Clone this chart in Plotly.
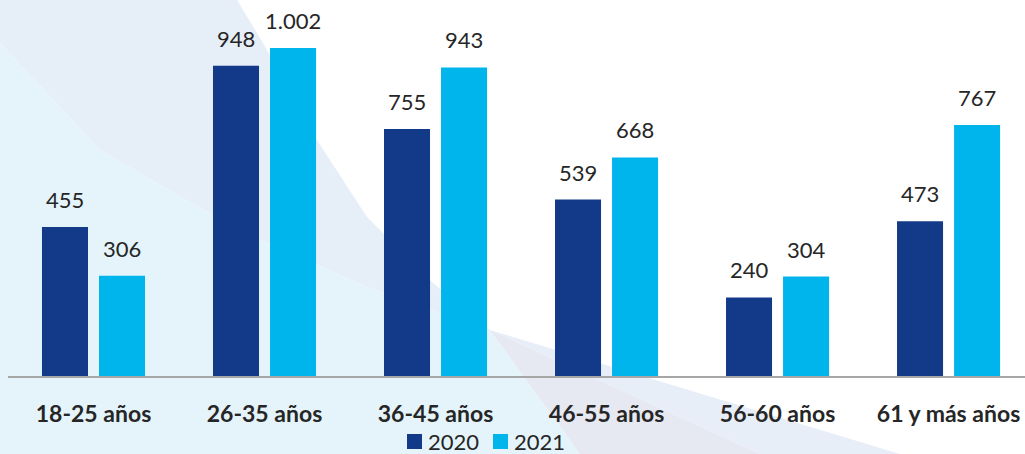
import plotly.graph_objects as go

categories = ["18-25 años", "26-35 años", "36-45 años", "46-55 años", "56-60 años", "61 y más años"]
values_2020 = [455, 948, 755, 539, 240, 473]
values_2021 = [306, 1002, 943, 668, 304, 767]
series_names = ["2020", "2021"]
colors = ["#123A89", "#00B4EC"]

W, H = 1025, 454
L, R, T, B = 8, 0, 0, 78
PW, PH = W - L - R, H - T - B

def px2paper(x, y):
    return (x - L) / PW, (H - B - y) / PH

def poly(points):
    parts = []
    for i, (x, y) in enumerate(points):
        px, py = px2paper(x, y)
        parts.append(("M" if i == 0 else "L") + f"{px:.4f},{py:.4f}")
    return " ".join(parts) + " Z"

bg_shapes = [
    (poly([(0, 0), (237, 0), (267, 50), (317, 140), (367, 217), (433, 283), (490, 330),
           (367, 287), (233, 227), (100, 150), (0, 43)]), "#E6EEF8"),
    (poly([(0, 43), (100, 150), (233, 227), (367, 287), (490, 330), (580, 454), (0, 454)]), "#E5F4FA"),
    (poly([(490, 330), (580, 454), (760, 454)]), "#E6E8F2"),
    (poly([(490, 330), (760, 454), (900, 454)]), "#E8EEF8"),
]

BARGAP = 0.333
GROUPGAP = 0.193
CAT_PX = PW / 5.947
SLOT_PX = CAT_PX * (1 - BARGAP) / 2

fig = go.Figure()
annotations = []
for i, (name, vals, col) in enumerate(zip(series_names, [values_2020, values_2021], colors)):
    fig.add_trace(go.Bar(
        x=categories, y=vals, name=name, marker_color=col,
        marker_line_width=0, showlegend=False, hoverinfo="skip",
    ))
    shift = (i - 0.5) * SLOT_PX
    for c, v in zip(categories, vals):
        annotations.append(dict(
            x=c, y=v, xref="x", yref="y", text=f"{v:,}".replace(",", "."),
            showarrow=False, xanchor="center", yanchor="bottom",
            xshift=shift, yshift=12,
            font=dict(family="Lato", size=22, color="#262626"),
        ))

# legend drawn as squares + labels below the axis
shapes = [dict(type="path", path=p, xref="paper", yref="paper", fillcolor=c,
               line=dict(width=0), layer="below") for p, c in bg_shapes]
LEG_Y = 441.5
for k, (name, col) in enumerate(zip(series_names, colors)):
    sx = 407 + k * 86
    x0, y0 = px2paper(sx, LEG_Y + 7.5)
    x1, y1 = px2paper(sx + 15, LEG_Y - 7.5)
    shapes.append(dict(type="rect", xref="paper", yref="paper", x0=x0, y0=y0, x1=x1, y1=y1,
                       fillcolor=col, line=dict(width=0), layer="above"))
    tx, ty = px2paper(sx + 19, LEG_Y)
    annotations.append(dict(x=tx, y=ty, xref="paper", yref="paper", text=name,
                            showarrow=False, xanchor="left", yanchor="middle",
                            font=dict(family="Lato", size=22, color="#262626")))

fig.update_layout(
    width=W, height=H,
    margin=dict(l=L, r=R, t=T, b=B, autoexpand=False),
    paper_bgcolor="white",
    plot_bgcolor="rgba(0,0,0,0)",
    barmode="group",
    bargap=BARGAP,
    bargroupgap=GROUPGAP,
    font=dict(family="Lato", color="#262626"),
    annotations=annotations,
    shapes=shapes,
    showlegend=False,
)
fig.update_xaxes(
    range=[-0.5, 5.447],
    showline=True, linecolor="#A6A6A6", linewidth=2,
    showgrid=False, ticks="",
    tickfont=dict(family="Lato", size=23, color="#262626", weight="bold"),
    ticklabelstandoff=16,
)
fig.update_yaxes(range=[0, 1149], visible=False, showgrid=False)

fig.write_html("out.html", config={"displayModeBar": False},
               post_script="document.body.style.margin='0';document.body.style.overflow='hidden';")
